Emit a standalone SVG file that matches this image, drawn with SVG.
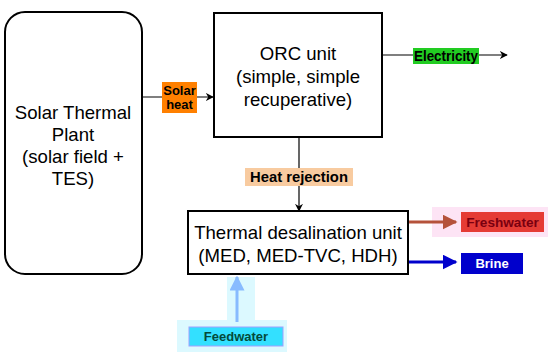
<svg xmlns="http://www.w3.org/2000/svg" width="550" height="355" viewBox="0 0 550 355">
<defs>
<style>
.box{fill:#fff;stroke:#000;stroke-width:2}
.t{font-family:"Liberation Sans",Arial,sans-serif;font-size:18.6px;fill:#000;text-anchor:middle}
.lb{font-family:"Liberation Sans",Arial,sans-serif;font-weight:bold;font-size:13px;text-anchor:middle}
.thin{stroke:#000;stroke-width:1.2;fill:none}
</style>
<marker id="ah" viewBox="0 0 10 10" refX="9" refY="5" markerWidth="8" markerHeight="8" markerUnits="userSpaceOnUse" orient="auto"><path d="M0,0 L10,5 L0,10 L3,5 Z" fill="#000"/></marker>
<marker id="ahR" viewBox="0 0 10 10" refX="9" refY="5" markerWidth="5" markerHeight="5" orient="auto"><path d="M0,0 L10,5 L0,10 Z" fill="#b5523b"/></marker>
<marker id="ahB" viewBox="0 0 10 10" refX="9" refY="5" markerWidth="5" markerHeight="5" orient="auto"><path d="M0,0 L10,5 L0,10 Z" fill="#0000cc"/></marker>
<marker id="ahC" viewBox="0 0 10 10" refX="9" refY="5" markerWidth="5" markerHeight="5" orient="auto"><path d="M0,0 L10,5 L0,10 Z" fill="#88bbff"/></marker>
</defs>
<rect width="550" height="355" fill="#fff"/>

<g id="connectors">
<line class="thin" x1="142" y1="97" x2="213" y2="97" marker-end="url(#ah)"/>
<line class="thin" x1="383" y1="55" x2="507" y2="55" marker-end="url(#ah)"/>
<line class="thin" x1="299" y1="137" x2="299" y2="211" marker-end="url(#ah)"/>
<rect x="432" y="207" width="116" height="30" fill="#fde4f5"/>
<line x1="409" y1="222" x2="456" y2="222" stroke="#b5523b" stroke-width="3" marker-end="url(#ahR)"/>
<line x1="409" y1="262" x2="456" y2="262" stroke="#0000cc" stroke-width="3" marker-end="url(#ahB)"/>
<rect x="177" y="320" width="110" height="32" fill="#dcf9ff"/>
<rect x="227" y="277" width="28" height="43" fill="#dcf9ff"/>
<line x1="237" y1="322" x2="237" y2="277" stroke="#88bbff" stroke-width="3" marker-end="url(#ahC)"/>
</g>

<g id="solar-plant">
<rect class="box" x="5" y="12" width="137" height="262" rx="20" ry="20"/>
<text class="t" x="73" y="119">Solar Thermal</text>
<text class="t" x="73" y="141">Plant</text>
<text class="t" x="73" y="163">(solar field +</text>
<text class="t" x="73" y="185">TES)</text>
</g>

<g id="orc-unit">
<rect class="box" x="214" y="13" width="168" height="124"/>
<text class="t" x="298" y="60">ORC unit</text>
<text class="t" x="298" y="83">(simple, simple</text>
<text class="t" x="298" y="106">recuperative)</text>
</g>

<g id="desal-unit">
<rect class="box" x="188" y="211" width="220" height="63"/>
<text class="t" x="298" y="239">Thermal desalination unit</text>
<text class="t" x="298" y="262">(MED, MED-TVC, HDH)</text>
</g>

<g id="label-solar-heat">
<rect x="162" y="82" width="35" height="31" fill="#ff8000"/>
<text class="lb" x="179.5" y="95" fill="#000">Solar</text>
<text class="lb" x="179.5" y="109" fill="#000">heat</text>
</g>

<g id="label-electricity">
<rect x="413" y="48" width="66" height="16" fill="#22cc22"/>
<text class="lb" x="446" y="60.5" fill="#000" style="font-size:13.8px" textLength="64" lengthAdjust="spacingAndGlyphs">Electricity</text>
</g>

<g id="label-heat-rejection">
<rect x="245" y="168" width="108" height="18" fill="#f8cba0"/>
<text class="lb" x="299" y="182" fill="#000" style="font-size:14.8px">Heat rejection</text>
</g>

<g id="label-freshwater">
<rect x="461" y="212" width="83" height="20" fill="#e53b35"/>
<text class="lb" x="502.5" y="227" fill="#7a0010" style="font-size:13.6px">Freshwater</text>
</g>

<g id="label-brine">
<rect x="461" y="253" width="62" height="21" fill="#0000cc"/>
<text class="lb" x="492" y="268" fill="#fff">Brine</text>
</g>

<g id="label-feedwater">
<rect x="189" y="327" width="94" height="19" fill="#33e0ff" stroke="#a0a0ff" stroke-width="1"/>
<text class="lb" x="236" y="341" fill="#044a3a">Feedwater</text>
</g>
</svg>
